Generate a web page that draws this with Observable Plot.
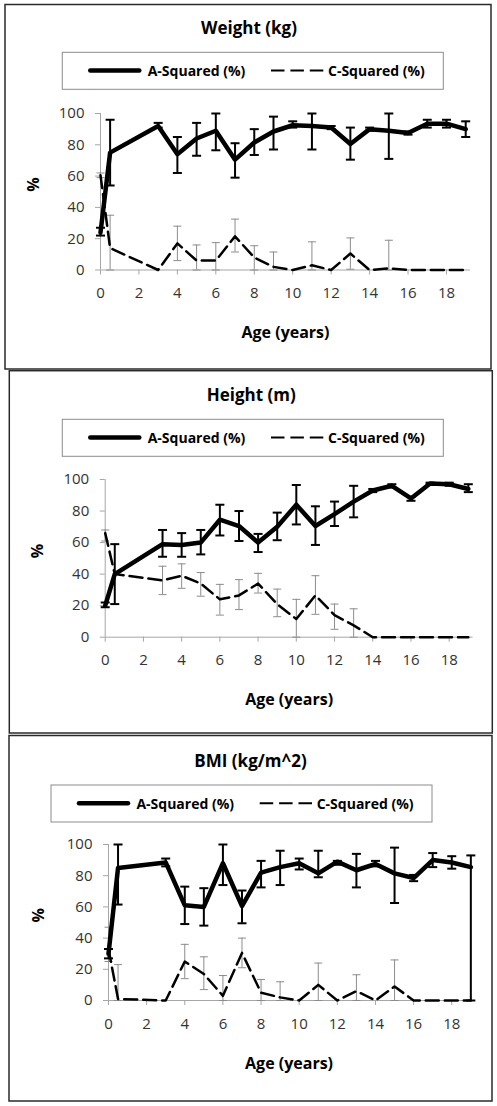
<!DOCTYPE html>
<html><head><meta charset="utf-8">
<script src="https://cdn.jsdelivr.net/npm/d3@7"></script>
<script src="https://cdn.jsdelivr.net/npm/@observablehq/plot@0.6"></script>
<style>
body{margin:0;background:#fff;}
#page{position:relative;width:497px;height:1106px;overflow:hidden;font-family:"Open Sans",sans-serif;background:#fff;}
#page svg{position:absolute;left:0;}
</style></head><body><div id="page"></div>
<script>
// ---------- data ----------
const ages = [0, 0.5, 3, 4, 5, 6, 7, 8, 9, 10, 11, 12, 13, 14, 15, 16, 17, 18, 19];
const xTicks = [0, 2, 4, 6, 8, 10, 12, 14, 16, 18];
const yTicks = [0, 20, 40, 60, 80, 100];
const seriesNames = ["A-Squared (%)", "C-Squared (%)"];
const panelTitles = ["Weight (kg)", "Height (m)", "BMI (kg/m^2)"];
const xLabel = "Age (years)";
const yLabel = "%";

// Weight
const weightA   = [24, 75, 92, 74, 84, 89, 70.5, 81.5, 88.5, 92.5, 92, 91, 80.5, 90, 89, 87.5, 93.5, 93.5, 90];
const weightALo = [22, 54, 91, 62, 73, 76.5, 59, 73.5, 77, 91, 77, 90, 70.5, 89, 71, 86.5, 91, 91, 85];
const weightAHi = [27, 96, 94, 85, 94, 100, 81, 90, 98, 95, 100, 92, 91, 91, 100, 88.5, 96, 96, 95];
const weightC   = [60.5, 14, 0, 17, 6, 6, 21.5, 8, 2, 0, 3, 0, 10.5, 0, 1, 0, 0, 0, 0];
const weightCLo = [59, 0, 0, 6, 0, 0, 11.5, 0, 0, 0, 0, 0, 0.5, 0, 0, 0, 0, 0, 0];
const weightCHi = [62, 35, 0, 28, 16, 17.5, 32.5, 15.5, 11.5, 0, 18, 0, 20.5, 0, 19, 0, 0, 0, 0];

// Height
const heightA   = [20, 40, 59, 58.5, 60, 74.5, 70.5, 60, 70, 84, 70.5, 78, 86, 93, 96, 88, 97.5, 97, 94];
const heightALo = [19, 21, 51, 51, 52.5, 64.5, 61, 54, 61.5, 71.5, 58.5, 70.5, 76, 92, 95, 86.5, 97, 96, 92];
const heightAHi = [22, 59, 68, 66, 68, 84, 80, 65.5, 79, 96.5, 83, 86, 96, 94, 97, 89, 98, 98, 97];
const heightC   = [66, 40, 36, 39, 34, 24, 26.5, 34, 21, 11.5, 26.5, 14, 7.5, 0, 0, 0, 0, 0, 0];
const heightCLo = [61, 40, 27, 31, 26, 14, 17.5, 28, 13, 0, 14.5, 5, 0, 0, 0, 0, 0, 0, 0];
const heightCHi = [68, 40, 45, 46.5, 41, 33.5, 36.5, 40.5, 30.5, 24, 39, 21, 18, 0, 0, 0, 0, 0, 0];

// BMI
const bmiA   = [30, 85, 88.5, 61, 60, 88, 60.5, 82, 85.5, 88, 81.5, 89, 83.5, 87.5, 81.5, 78.5, 90, 88.5, 85.5];
const bmiALo = [27, 61.5, 86, 49, 48, 74, 49.5, 72.5, 74, 84, 79, 87, 72.5, 86, 62.5, 76.5, 85.5, 84.5, 0];
const bmiAHi = [33, 100, 91, 73, 72, 100, 70.5, 89.5, 96, 91, 96, 89.5, 94, 89.5, 98, 80.5, 94.5, 92.5, 93];
const bmiC   = [33, 1, 0, 25, 17, 3, 30.5, 5, 2, 0, 10, 0, 6, 0, 9, 0, 0, 0, 0];
const bmiCLo = [25, 0, 0, 14, 7, 0, 21, 0, 0, 0, 0, 0, 0, 0, 0, 0, 0, 0, 0];
const bmiCHi = [47, 23, 0, 36, 28, 16, 40, 13.5, 12, 0, 24, 0, 16.5, 0, 26, 0, 0, 0, 0];

// ---------- layout ----------
const panels = [
  {title: panelTitles[0], A: weightA, ALo: weightALo, AHi: weightAHi, C: weightC, CLo: weightCLo, CHi: weightCHi,
   box: [5, 4.5, 486, 364.5], tx: 249, ty: 34.3, lx: 62.3, ly: 52.3,
   top: 103, ml: 100, mr: 27, ph: 156.5, ylDx: -67, xlDx: 0},
  {title: panelTitles[1], A: heightA, ALo: heightALo, AHi: heightAHi, C: heightC, CLo: heightCLo, CHi: heightCHi,
   box: [9.3, 370.7, 483, 362.3], tx: 251.3, ty: 401, lx: 62.3, ly: 419.3,
   top: 469, ml: 104.7, mr: 24.4, ph: 157.7, ylDx: -67, xlDx: 0},
  {title: panelTitles[2], A: bmiA, ALo: bmiALo, AHi: bmiAHi, C: bmiC, CLo: bmiCLo, CHi: bmiCHi,
   box: [9, 735.5, 483, 365.5], tx: 250.5, ty: 766.7, lx: 51, ly: 785,
   top: 834, ml: 108, mr: 21.9, ph: 156, ylDx: -70, xlDx: -3}
];
const MT = 10, MB = 80;
const axisGray = "#a6a6a6", errGray = "#8c8c8c", dash = "13,6";
const capSymbol = {draw(ctx, size) { const w = Math.sqrt(size / Math.PI); ctx.moveTo(-w, 0); ctx.lineTo(w, 0); }};

const page = document.getElementById("page");

for (const P of panels) {
  const rows = ages.map((x, i) => ({x, a: P.A[i], aLo: P.ALo[i], aHi: P.AHi[i], c: P.C[i], cLo: P.CLo[i], cHi: P.CHi[i]}));
  const errA = rows.filter(d => d.aHi > d.aLo);
  const errC = rows.filter(d => d.cHi > d.cLo);
  const svg = Plot.plot({
    width: 497, height: MT + P.ph + MB,
    marginLeft: P.ml, marginRight: P.mr, marginTop: MT, marginBottom: MB,
    x: {domain: [0, 19.25]},
    y: {domain: [0, 100]},
    style: {fontFamily: "'Open Sans', sans-serif", fontSize: "15px", color: "#333", background: "transparent", overflow: "visible"},
    marks: [
      Plot.ruleY([0], {stroke: axisGray, strokeWidth: 1}),
      Plot.ruleX([0], {stroke: axisGray, strokeWidth: 1}),
      Plot.axisX({ticks: xTicks, tickSize: 5, tickPadding: 12.5, stroke: axisGray, fill: "#333", label: null, tickFormat: d => String(d)}),
      Plot.axisY({ticks: yTicks, tickSize: 5, tickPadding: 11, stroke: axisGray, fill: "#333", label: null}),
      Plot.ruleX(errC, {x: "x", y1: "cLo", y2: "cHi", stroke: errGray, strokeWidth: 1}),
      Plot.dot(errC, {x: "x", y: "cLo", symbol: capSymbol, r: 4, stroke: errGray, strokeWidth: 1, fill: "none"}),
      Plot.dot(errC, {x: "x", y: "cHi", symbol: capSymbol, r: 4, stroke: errGray, strokeWidth: 1, fill: "none"}),
      Plot.line(rows, {x: "x", y: "c", stroke: "#000", strokeWidth: 2.5, strokeDasharray: dash}),
      Plot.ruleX(errA, {x: "x", y1: "aLo", y2: "aHi", stroke: "#000", strokeWidth: 2}),
      Plot.dot(errA, {x: "x", y: "aLo", symbol: capSymbol, r: 4.5, stroke: "#000", strokeWidth: 2, fill: "none"}),
      Plot.dot(errA, {x: "x", y: "aHi", symbol: capSymbol, r: 4.5, stroke: "#000", strokeWidth: 2, fill: "none"}),
      Plot.line(rows, {x: "x", y: "a", stroke: "#000", strokeWidth: 4.5, strokeLinejoin: "round"}),
      Plot.text([yLabel], {frameAnchor: "left", dx: P.ylDx, rotate: -90, fontWeight: "bold", fontSize: 16, fill: "#000"}),
      Plot.text([xLabel], {frameAnchor: "bottom", dy: 68, dx: P.xlDx, lineAnchor: "bottom", fontWeight: "bold", fontSize: 16, fill: "#000"})
    ]
  });
  svg.style.top = P.top + "px";
  page.appendChild(svg);
}

// ---------- frames, titles, legends ----------
const ov = d3.select(page).append("svg")
  .attr("width", 497).attr("height", 1106)
  .style("top", "0px").style("pointer-events", "none")
  .style("font-family", "'Open Sans', sans-serif");

for (const P of panels) {
  const [bx, by, bw, bh] = P.box;
  ov.append("rect").attr("x", bx).attr("y", by).attr("width", bw).attr("height", bh)
    .attr("fill", "none").attr("stroke", "#2a2a2a").attr("stroke-width", 1.5);
  ov.append("text").attr("x", P.tx).attr("y", P.ty).attr("text-anchor", "middle")
    .attr("font-weight", "bold").attr("font-size", 17).attr("fill", "#000").text(P.title);
  const g = ov.append("g").attr("transform", `translate(${P.lx},${P.ly})`);
  g.append("rect").attr("width", 381).attr("height", 37).attr("fill", "none").attr("stroke", "#8c8c8c").attr("stroke-width", 1);
  g.append("line").attr("x1", 28).attr("x2", 77).attr("y1", 18.3).attr("y2", 18.3)
    .attr("stroke", "#000").attr("stroke-width", 4.5).attr("stroke-linecap", "round");
  g.append("text").attr("x", 85.4).attr("y", 23.7).attr("font-weight", "bold").attr("font-size", 14).attr("fill", "#000").text(seriesNames[0]);
  g.append("line").attr("x1", 208.7).attr("x2", 261).attr("y1", 18.3).attr("y2", 18.3)
    .attr("stroke", "#000").attr("stroke-width", 2).attr("stroke-dasharray", "13.5,5.9");
  g.append("text").attr("x", 265.7).attr("y", 23.7).attr("font-weight", "bold").attr("font-size", 14).attr("fill", "#000").text(seriesNames[1]);
}
</script>
</body></html>
